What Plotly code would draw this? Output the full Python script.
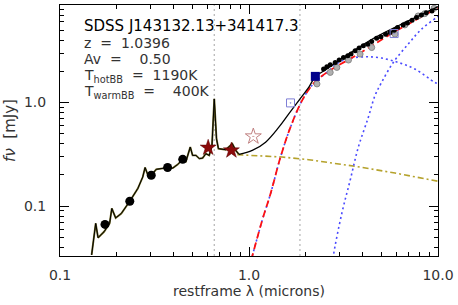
import plotly.graph_objects as go

# ---------------- data ----------------
# total model: jagged (template) part
model_jag_x = [0.147, 0.1545, 0.159, 0.171, 0.183, 0.188, 0.197, 0.211, 0.234, 0.258,
               0.274, 0.282, 0.292, 0.304, 0.323, 0.357, 0.395, 0.419, 0.446, 0.464,
               0.489, 0.503, 0.524, 0.546, 0.568, 0.591, 0.616, 0.637, 0.655, 0.673,
               0.689, 0.753, 0.816, 0.851, 0.885]
model_jag_y = [0.0338, 0.0682, 0.0496, 0.0566, 0.0682, 0.095, 0.077, 0.085, 0.1117, 0.148,
               0.191, 0.236, 0.199, 0.199, 0.227, 0.233, 0.233, 0.252, 0.283, 0.271,
               0.372, 0.309, 0.309, 0.288, 0.291, 0.321, 0.309, 0.386, 1.085, 0.448,
               0.359, 0.351, 0.401, 0.345, 0.316]
# total model: smooth part
model_sm_x = [0.885, 1.041, 1.224, 1.439, 1.623, 1.833, 2.07, 2.244, 2.582, 3.087, 4.64, 6.95, 9.75, 10.0]
model_sm_y = [0.316, 0.345, 0.415, 0.579, 0.778, 1.045, 1.403, 1.778, 2.109, 2.648, 4.245, 6.14, 8.25, 8.45]

# accretion disk power law
disk_x = [0.868, 1.496, 2.07, 3.645, 5.92, 9.79, 10.0]
disk_y = [0.314, 0.298, 0.281, 0.2425, 0.209, 0.175, 0.174]

# hot blackbody (1190 K)
hot_x = [0.993, 1.041, 1.175, 1.301, 1.468, 1.658, 1.908, 2.198, 2.582, 2.976, 3.497,
         4.195, 5.03, 6.16, 7.54, 9.62, 10.0]
hot_y = [0.024, 0.033, 0.0733, 0.1325, 0.298, 0.579, 1.045, 1.533, 1.955, 2.441, 2.69,
         2.768, 2.69, 2.441, 2.11, 1.567, 1.52]

# warm blackbody (400 K)
warm_x = [2.77, 2.80, 3.097, 3.43, 3.79, 4.28, 4.64, 5.03, 5.80, 6.95, 8.17, 9.79, 10.0]
warm_y = [0.028, 0.0338, 0.085, 0.178, 0.372, 0.722, 1.168, 1.567, 2.441, 3.666, 5.11, 6.61, 6.8]

# sum of blackbodies
bbsum_x = [0.993, 1.041, 1.175, 1.301, 1.468, 1.658, 1.908, 2.198, 2.582, 3.793, 5.66, 9.75, 10.0]
bbsum_y = [0.024, 0.033, 0.0733, 0.1325, 0.298, 0.579, 1.045, 1.533, 1.955, 2.94, 4.61, 8.01, 8.2]

# broad-band photometry
phot_x = [0.173, 0.234, 0.304, 0.371, 0.446]
phot_y = [0.0667, 0.1117, 0.199, 0.236, 0.283]

# near-IR photometry (filled stars) and open star
star_x = [0.608, 0.807]
star_y = [0.367, 0.345]
ostar_x = [1.054]
ostar_y = [0.471]

# Spitzer squares
sq_fill_x = [2.244]
sq_fill_y = [1.79]
sq_open_x = [1.658, 5.86]
sq_open_y = [0.993, 4.64]

# IRS spectrum (black dots)
irs_x = [2.481, 2.582, 2.69, 2.858, 3.0, 3.162, 3.331, 3.467, 3.645, 3.824, 4.027, 4.246,
         4.457, 4.732, 4.99, 5.28, 5.57, 5.86, 6.11, 6.54, 6.89, 7.29, 7.69, 8.17, 8.67, 9.29]
irs_y = [2.109, 2.219, 2.318, 2.441, 2.574, 2.727, 2.831, 2.94, 3.162, 3.357, 3.532, 3.666,
         3.883, 4.19, 4.312, 4.577, 4.74, 5.0, 5.30, 5.62, 5.87, 6.24, 6.61, 7.02, 7.38, 7.67]

# synthetic photometry (gray)
syn_x = [2.289, 2.69, 2.917, 3.36, 3.87, 4.46, 5.92, 6.68, 7.85, 8.51, 9.53]
syn_y = [1.513, 1.955, 2.185, 2.574, 2.94, 3.40, 4.58, 5.62, 6.86, 7.22, 8.14]

# vertical dotted markers
vline_x = [0.655, 1.86]

x_tickvals = [0.1, 1.0, 10.0]
x_ticktext = ["0.1", "1.0", "10.0"]
y_tickvals = [0.1, 1.0]
y_ticktext = ["0.1", "1.0"]

title_text = "SDSS J143132.13+341417.3"
info_lines = ["z\u00a0\u00a0=\u00a0\u00a01.0396",
              "Av\u00a0\u00a0=\u00a0\u00a0\u00a0\u00a00.50",
              "T<sub>hotBB</sub>\u00a0\u00a0=\u00a0\u00a01190K",
              "T<sub>warmBB</sub>\u00a0\u00a0=\u00a0\u00a0\u00a0\u00a0400K"]

# ---------------- figure ----------------
FONT = "DejaVu Sans"
fig = go.Figure()

for xv in vline_x:
    fig.add_vline(x=xv, line=dict(color="#b4b4b4", width=1.2, dash="2px,3px"), layer="below")

fig.add_trace(go.Scatter(x=disk_x, y=disk_y, mode="lines",
                         line=dict(color="#b5a22c", width=1.6, dash="6px,3px,2px,3px")))
fig.add_trace(go.Scatter(x=warm_x, y=warm_y, mode="lines", line_shape="spline",
                         line=dict(color="#4a4aff", width=1.6, dash="2px,3px")))
fig.add_trace(go.Scatter(x=hot_x, y=hot_y, mode="lines", line_shape="spline",
                         line=dict(color="#4a4aff", width=1.6, dash="2px,3px")))
fig.add_trace(go.Scatter(x=bbsum_x, y=bbsum_y, mode="lines", line_shape="spline",
                         line=dict(color="#ff1010", width=1.8, dash="7px,4px")))
fig.add_trace(go.Scatter(x=syn_x, y=syn_y, mode="markers",
                         marker=dict(symbol="circle", size=6, color="#b0b0b0",
                                     line=dict(color="#888888", width=1))))
fig.add_trace(go.Scatter(x=model_jag_x, y=model_jag_y, mode="lines",
                         line=dict(color="#6b6420", width=1.9)))
fig.add_trace(go.Scatter(x=model_jag_x, y=model_jag_y, mode="lines",
                         line=dict(color="#000000", width=1.0)))
fig.add_trace(go.Scatter(x=model_sm_x, y=model_sm_y, mode="lines", line_shape="spline",
                         line=dict(color="#000000", width=1.3)))
fig.add_trace(go.Scatter(x=irs_x, y=irs_y, mode="markers",
                         marker=dict(symbol="circle", size=5, color="#000000")))
fig.add_trace(go.Scatter(x=phot_x, y=phot_y, mode="markers",
                         marker=dict(symbol="circle", size=9, color="#000000")))
fig.add_trace(go.Scatter(x=star_x, y=star_y, mode="markers",
                         marker=dict(symbol="star", size=12, color="#8b0a0a",
                                     line=dict(color="#5a0000", width=0.5))))
fig.add_trace(go.Scatter(x=ostar_x, y=ostar_y, mode="markers",
                         marker=dict(symbol="star-open-dot", size=12, color="#c08080",
                                     line=dict(width=1))))
fig.add_trace(go.Scatter(x=sq_open_x, y=sq_open_y, mode="markers",
                         marker=dict(symbol="square-open-dot", size=8, color="#7f7fd6",
                                     line=dict(width=1))))
fig.add_trace(go.Scatter(x=sq_fill_x, y=sq_fill_y, mode="markers",
                         marker=dict(symbol="square", size=9, color="#00008b")))

fig.add_annotation(x=0.058, y=0.918, xref="paper", yref="paper", xanchor="left",
                   yanchor="middle", text=title_text, showarrow=False,
                   font=dict(family=FONT, size=15, color="#000000"))
info_y = [0.848, 0.785, 0.716, 0.655]
for txt, yy in zip(info_lines, info_y):
    fig.add_annotation(x=0.058, y=yy, xref="paper", yref="paper", xanchor="left",
                       yanchor="middle", text=txt, showarrow=False,
                       font=dict(family=FONT, size=14, color="#333333"))

axis_common = dict(type="log", showgrid=False, zeroline=False, showline=True,
                   linecolor="#000000", linewidth=1, mirror="allticks",
                   ticks="inside", ticklen=9, tickwidth=1, tickcolor="#000000",
                   tickfont=dict(family=FONT, size=14, color="#333333"))

fig.update_xaxes(**axis_common, range=[-1, 1], tickvals=x_tickvals, ticktext=x_ticktext,
                 minor=dict(ticks="inside", ticklen=4, tickcolor="#000000",
                            tickvals=[0.2, 0.3, 0.4, 0.5, 0.6, 0.7, 0.8, 0.9,
                                      2, 3, 4, 5, 6, 7, 8, 9]),
                 ticklabelstandoff=6,
                 title=dict(text="restframe λ (microns)", standoff=4,
                            font=dict(family=FONT, size=14, color="#333333")))
fig.update_yaxes(**axis_common, range=[-1.481, 0.942], tickvals=y_tickvals, ticktext=y_ticktext,
                 minor=dict(ticks="inside", ticklen=4, tickcolor="#000000",
                            tickvals=[0.04, 0.05, 0.06, 0.07, 0.08, 0.09,
                                      0.2, 0.3, 0.4, 0.5, 0.6, 0.7, 0.8, 0.9,
                                      2, 3, 4, 5, 6, 7, 8]),
                 ticklabelstandoff=10,
                 title=dict(text="<i>fν</i>  [mJy]", standoff=4,
                            font=dict(family=FONT, size=15, color="#333333")))

fig.update_layout(width=458, height=305, showlegend=False,
                  margin=dict(l=60, r=18, t=4, b=49),
                  paper_bgcolor="white", plot_bgcolor="white")

fig.write_html("out.html", config={"displayModeBar": False},
               post_script="document.body.style.margin='0';document.body.style.padding='0';")
